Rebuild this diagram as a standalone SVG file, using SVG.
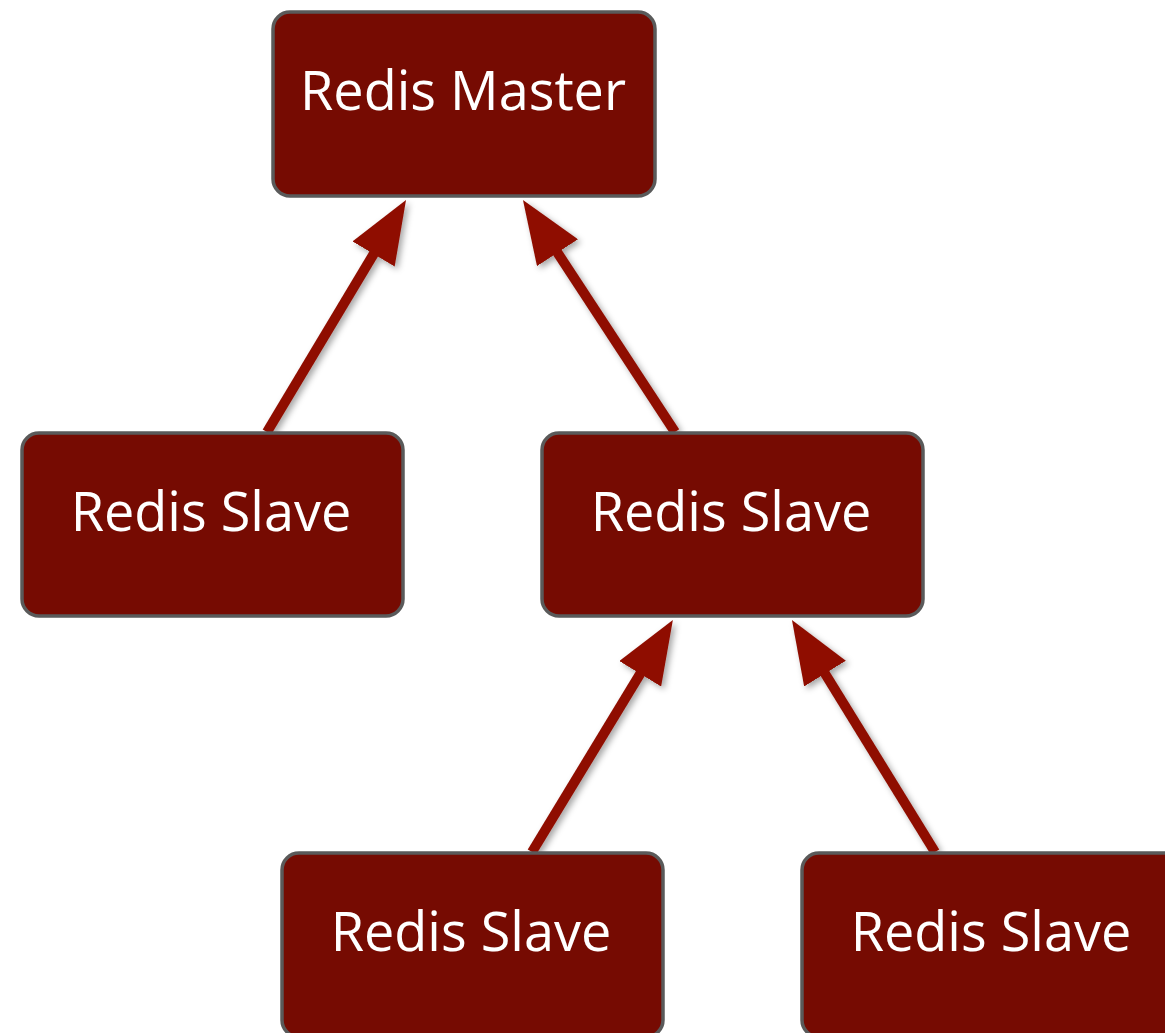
<svg xmlns="http://www.w3.org/2000/svg" width="1165" height="1033" viewBox="0 0 1165 1033">
<style>
.box{fill:#760b02;stroke:#5a5a5a;stroke-width:3.5}
.lbl{fill:#ffffff;font-family:"Open Sans","Noto Sans","Liberation Sans",sans-serif;font-size:54px;text-anchor:middle}
.conn{stroke:#8f1000;stroke-width:10;fill:none;marker-end:url(#head)}
</style>
<defs>
<filter id="sh" x="-20%" y="-20%" width="140%" height="140%">
<feDropShadow dx="3" dy="3" stdDeviation="3" flood-color="#000" flood-opacity="0.35"/>
</filter>
<marker id="head" viewBox="0 0 63 49" refX="33" refY="24.5" markerWidth="63" markerHeight="49" markerUnits="userSpaceOnUse" orient="auto">
<path d="M0,0 L63,24.5 L0,49 z" fill="#8f1000"/>
</marker>
</defs>
<rect width="1165" height="1033" fill="#ffffff"/>
<g id="connectors" filter="url(#sh)">
<line class="conn" x1="267" y1="432" x2="390.6" y2="225.7"/>
<line class="conn" x1="675" y1="432" x2="539.4" y2="225.1"/>
<line class="conn" x1="532" y1="852" x2="657.3" y2="645.6"/>
<line class="conn" x1="935" y1="852" x2="807.7" y2="645.5"/>
</g>
<g id="master">
<rect class="box" x="273" y="12" width="382" height="184" rx="17"/>
<text class="lbl" x="463" y="110">Redis Master</text>
</g>
<g id="slave1">
<rect class="box" x="22" y="433" width="381" height="183" rx="17"/>
<text class="lbl" x="211" y="531">Redis Slave</text>
</g>
<g id="slave2">
<rect class="box" x="542" y="433" width="381" height="183" rx="17"/>
<text class="lbl" x="731" y="531">Redis Slave</text>
</g>
<g id="slave3">
<rect class="box" x="282" y="853" width="381" height="184" rx="17"/>
<text class="lbl" x="471" y="951">Redis Slave</text>
</g>
<g id="slave4">
<rect class="box" x="802" y="853" width="381" height="184" rx="17"/>
<text class="lbl" x="991" y="951">Redis Slave</text>
</g>
</svg>
